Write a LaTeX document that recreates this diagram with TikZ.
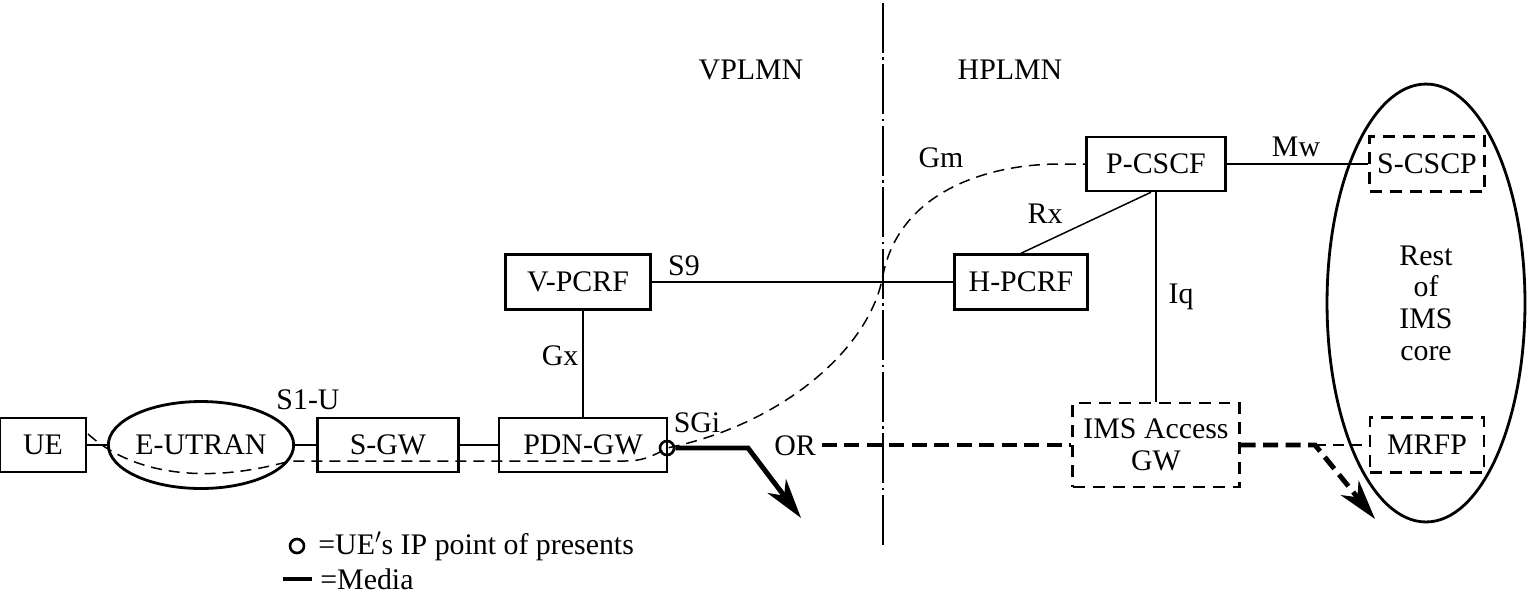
\documentclass[tikz,border=0pt]{standalone}
\usepackage{fontspec}
\setmainfont{Liberation Serif}
\usepackage{tikz}
\usetikzlibrary{shapes.geometric}
\usetikzlibrary{arrows.meta}
\tikzstyle{box}=[rectangle,draw=black,line width=1.4pt,inner sep=0mm,minimum height=1.08cm]
\tikzstyle{dbox}=[box,line width=1.2pt,dash pattern=on 0.24cm off 0.16cm]
\tikzstyle{cloud}=[ellipse,draw=black,line width=1.6pt,inner sep=0mm]
\tikzstyle{poi}=[circle,draw=black,line width=1.5pt,inner sep=0mm,minimum size=0.28cm]
\tikzstyle{link}=[line width=0.85pt]
\tikzstyle{signal}=[line width=0.85pt,dash pattern=on 0.22cm off 0.14cm]
\tikzstyle{media}=[line width=2.8pt]
\tikzstyle{mediaalt}=[media,dash pattern=on 0.3cm off 0.15cm]
\tikzstyle{border}=[line width=0.9pt,dash pattern=on 1cm off 0.09cm on 0.05cm off 0.09cm]
\tikzstyle{arrow}=[-{Stealth[length=0.8cm,width=0.46cm,inset=0.24cm]}]
\tikzset{every picture/.style={
    font=\fontsize{17}{18}\selectfont
  }
}

\begin{document}
\begin{tikzpicture}[x=0.02cm,y=-0.02cm]
          \useasboundingbox (0,0) rectangle (1527,593);
          % network nodes
          \node[box,minimum width=1.72cm] at (43,445) (ue) {UE};
          \node[cloud,minimum width=3.54cm,minimum height=1.74cm] at (201,445) (eutran) {E-UTRAN};
          \node[box,minimum width=2.82cm] at (388,445) (sgw) {S-GW};
          \node[box,minimum width=3.36cm] at (583,445) (pdngw) {PDN-GW};
          \node[box,minimum width=2.9cm,minimum height=1.1cm] at (578,282) (vpcrf) {V-PCRF};
          \node[box,minimum width=2.66cm,minimum height=1.1cm] at (1021,282) (hpcrf) {H-PCRF};
          \node[box,minimum width=2.78cm] at (1156,164) (pcscf) {P-CSCF};
          \node[cloud,minimum width=3.96cm,minimum height=8.76cm,align=center] at (1426,303) (imscore) {Rest\\of\\IMS\\core};
          \node[dbox,minimum width=2.3cm,minimum height=1.1cm] at (1427,164) (scscp) {S-CSCP};
          \node[dbox,minimum width=2.28cm,minimum height=1.1cm] at (1427,445) (mrfp) {MRFP};
          \node[dbox,minimum width=3.34cm,minimum height=1.68cm,align=center] at (1156,445) (imsgw) {IMS Access\\GW};
          \node[poi] at (667,448) (ip) {};
          % domains
          \node at (751,70) (vplmn) {VPLMN};
          \node at (1010,70) (hplmn) {HPLMN};
          \coordinate (bt) at (883,3);
          \coordinate (bb) at (883,545);
          \draw[border] (bt) -- (bb);
          % interfaces
          \draw[link] (ue) -- (eutran);
          \draw[link] (eutran) -- (sgw);
          \draw[link] (sgw) -- (pdngw);
          \draw[link] (pdngw.north) -- (pdngw.north |- vpcrf.south);
          \draw[link] (vpcrf) -- (hpcrf);
          \draw[link] (hpcrf.north) -- ([xshift=-0.1cm]pcscf.south);
          \draw[link] (pcscf) -- (imsgw);
          \draw[link] (pcscf) -- (scscp);
          \node at (308,400) (s1u) {S1-U};
          \node at (697,423) (sgi) {SGi};
          \node at (560,356) (gx) {Gx};
          \node at (684,266) (s9) {S9};
          \node at (1045,214) (rx) {Rx};
          \node at (941,158) (gm) {Gm};
          \node at (1296,147) (mw) {Mw};
          \node at (1181,297) (iq) {Iq};
          % signalling path UE -> P-CSCF
          \coordinate (g1) at (88,434);
          \coordinate (g2) at (290,461);
          \coordinate (g3) at (625,461);
          \coordinate (g4) at (1060,164);
          \draw[signal] (g1) .. controls (130,472) and (200,486) .. (g2) -- (g3)
            .. controls (640,461) and (650,458) .. (ip.center)
            .. controls (780,425) and (870,350) .. (883,275)
            .. controls (900,190) and (990,164) .. (g4) -- (pcscf.west);
          % media
          \coordinate (m1) at (748,448);
          \coordinate (m2) at (801,518);
          \draw[media,arrow] (ip.east) -- (m1) -- (m2);
          \node at (795,446) (or) {OR};
          \draw[mediaalt] (or.east |- imsgw.west) -- (imsgw.west);
          \coordinate (m3) at (1315,445);
          \coordinate (m4) at (1375,519);
          \draw[mediaalt,arrow] (imsgw.east |- m3) -- (m3) -- (m4);
          \draw[signal] (m3) -- (mrfp.west);
          % legend
          \node[poi] at (297,546) (lgip) {};
          \node[anchor=west,inner sep=0pt] at (318,546) (lgiptext) {=UE$'$s IP point of presents};
          \coordinate (lg1) at (283,579);
          \coordinate (lg2) at (312,579);
          \draw[media] (lg1) -- (lg2);
          \node[anchor=west,inner sep=0pt] at (320,579) (lgmedia) {=Media};
        \end{tikzpicture}
\end{document}
